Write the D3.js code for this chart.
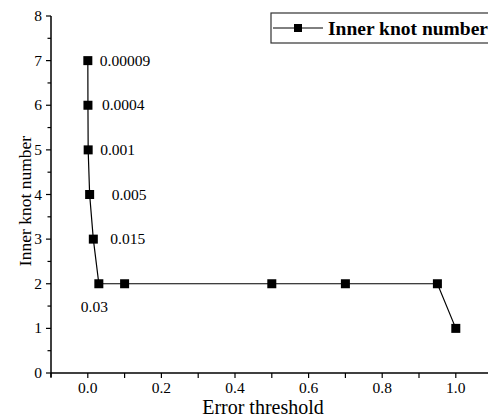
<!DOCTYPE html>
<html lang="en">
<head>
  <meta charset="UTF-8">
  <title>Inner knot number</title>
  <script src="https://d3js.org/d3.v7.min.js"></script>
  <style>
    body { margin: 0; background: #fff; }
    svg { font-family: "Liberation Serif", "DejaVu Serif", serif; }
  </style>
</head>
<body>
  <div id="chart"></div>
  <script>
    const thresholds = [0.00009, 0.0004, 0.001, 0.005, 0.015, 0.03, 0.1, 0.5, 0.7, 0.95, 1.0];
    const knots = [7, 6, 5, 4, 3, 2, 2, 2, 2, 2, 1];
    const pointLabels = ["0.00009", "0.0004", "0.001", "0.005", "0.015", "0.03"];
    const xTicks = [0.0, 0.2, 0.4, 0.6, 0.8, 1.0];
    const yTicks = [0, 1, 2, 3, 4, 5, 6, 7, 8];

    const width = 488, height = 418;
    const svg = d3.select("#chart").append("svg")
      .attr("width", width).attr("height", height);

    const x = d3.scaleLinear().domain([-0.1, 1.1]).range([51, 492.6]);
    const y = d3.scaleLinear().domain([0, 8]).range([373, 16]);

    // axes
    const xAxis = svg.append("g").attr("transform", `translate(0,${y(0)})`);
    xAxis.append("line").attr("x1", x(-0.1)).attr("x2", width).attr("stroke", "#000").attr("stroke-width", 1.5);
    const xMinor = d3.range(-0.1, 1.15, 0.1);
    xAxis.selectAll(".xt").data(xMinor).enter().append("line")
      .attr("x1", d => x(d)).attr("x2", d => x(d))
      .attr("y1", 0).attr("y2", 5)
      .attr("stroke", "#000").attr("stroke-width", 1.2);
    xAxis.selectAll(".xl").data(xTicks).enter().append("text")
      .attr("x", d => x(d)).attr("y", 20)
      .attr("text-anchor", "middle").attr("font-size", 15.5)
      .text(d => d.toFixed(1));

    const yAxis = svg.append("g").attr("transform", `translate(${x(-0.1)},0)`);
    yAxis.append("line").attr("y1", y(8)).attr("y2", y(0) + 4).attr("stroke", "#000").attr("stroke-width", 1.5);
    yAxis.selectAll(".yt").data(d3.range(0, 8.01, 0.5)).enter().append("line")
      .attr("y1", d => y(d)).attr("y2", d => y(d))
      .attr("x1", 0).attr("x2", d => d % 1 === 0 ? -5 : -3.5)
      .attr("stroke", "#000").attr("stroke-width", 1.2);
    yAxis.selectAll(".yl").data(yTicks).enter().append("text")
      .attr("x", -9).attr("y", d => y(d) + 5)
      .attr("text-anchor", "end").attr("font-size", 15.5)
      .text(d => d);

    svg.append("text")
      .attr("x", 263).attr("y", 414)
      .attr("text-anchor", "middle").attr("font-size", 20)
      .text("Error threshold");
    svg.append("text")
      .attr("transform", "translate(31,201) rotate(-90)")
      .attr("text-anchor", "middle").attr("font-size", 17.5)
      .text("Inner knot number");

    // series
    const pts = thresholds.map((t, i) => ({ t, k: knots[i] }));
    svg.append("path").datum(pts)
      .attr("fill", "none").attr("stroke", "#000").attr("stroke-width", 1.2)
      .attr("d", d3.line().x(d => x(d.t)).y(d => y(d.k)));
    svg.selectAll(".pt").data(pts).enter().append("rect")
      .attr("x", d => x(d.t) - 4.5).attr("y", d => y(d.k) - 4.5)
      .attr("width", 9).attr("height", 9).attr("fill", "#000");

    // point annotations
    const offs = [[12, 5], [14, 5], [12, 5], [22, 5], [17, 5], [-18, 28]];
    svg.selectAll(".pl").data(pointLabels).enter().append("text")
      .attr("x", (d, i) => x(thresholds[i]) + offs[i][0])
      .attr("y", (d, i) => y(knots[i]) + offs[i][1])
      .attr("font-size", 15.5)
      .text(d => d);

    // legend
    const lg = svg.append("g").attr("transform", "translate(271,13)");
    lg.append("rect").attr("width", 230).attr("height", 30)
      .attr("fill", "#fff").attr("stroke", "#333").attr("stroke-width", 1.2);
    lg.append("line").attr("x1", 2).attr("x2", 52).attr("y1", 15).attr("y2", 15)
      .attr("stroke", "#000").attr("stroke-width", 1);
    lg.append("rect").attr("x", 23).attr("y", 11).attr("width", 8).attr("height", 8).attr("fill", "#000");
    lg.append("text").attr("x", 57).attr("y", 21.5)
      .attr("font-size", 19.5).attr("font-weight", "bold")
      .text("Inner knot number");
  </script>
</body>
</html>
